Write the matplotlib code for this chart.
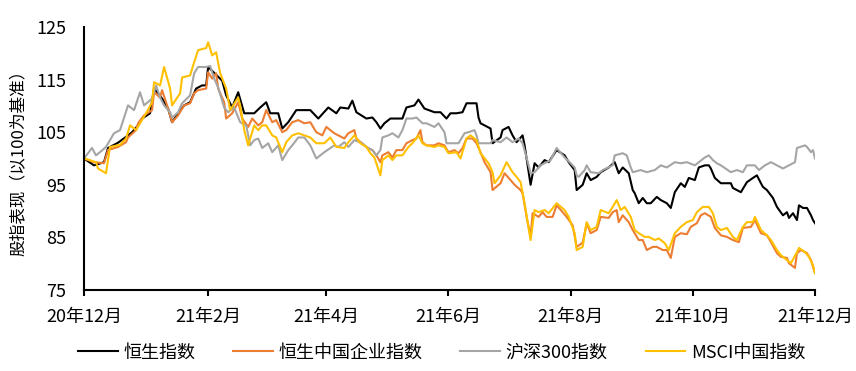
import numpy as np
import matplotlib
matplotlib.use("Agg")
import matplotlib.pyplot as plt
import matplotlib.dates as mdates
from matplotlib.ticker import FuncFormatter

plt.rcParams["font.family"] = ["Noto Sans CJK SC", "DejaVu Sans"]

# (days since 2020-12-01, index level rebased to 100)
START = np.datetime64("2020-12-01")

hsi = [
    (0, 100), (5, 98.7), (10, 99.3), (12, 102), (17, 103), (22, 104.4), (24, 105), (27, 106.3), (29, 107.6), (33, 108.6),
    (35, 113.3), (37, 112.4), (39, 111.4), (42, 109.5), (44, 106.9), (47, 108.6), (50, 110.1), (53, 110.7), (56, 113.3), (59, 113.9),
    (61, 113.9), (62, 117.4), (69, 114.8), (71, 112), (74, 109.7), (77, 112.6), (80, 108.6), (85, 108.6), (88, 109.7), (91, 110.7),
    (93, 108.6), (97, 108.6), (99, 105.7), (102, 106.9), (106, 109.2), (113, 109.2), (117, 107.6), (122, 109.7), (126, 108.6), (128, 109.7),
    (132, 109.5), (134, 111), (136, 108.8), (141, 107.6), (144, 107.8), (146, 106.9), (148, 105.7), (150, 106.7), (153, 107.6), (159, 107.6),
    (161, 109.7), (165, 110.1), (167, 111.2), (170, 109.5), (175, 108.8), (178, 108.8), (181, 107.6), (183, 108.6), (186, 108.6), (189, 108.8),
    (191, 110.5), (196, 110.5), (197, 107.8), (198, 106.7), (203, 105.7), (204, 102.9), (208, 104), (209, 105.4), (212, 106), (214, 104.4),
    (216, 103.1), (219, 104.4), (220, 102.5), (223, 95), (225, 99.1), (227, 98.3), (230, 99.7), (232, 99.3), (236, 101.6), (240, 100.6),
    (242, 99.3), (245, 97.8), (246, 94), (249, 95), (251, 97.2), (253, 95.9), (256, 96.5), (258, 97.4), (262, 98.3), (265, 99.3),
    (267, 97.2), (269, 98.3), (272, 97.2), (274, 94), (275, 93.4), (277, 91.5), (279, 92.5), (281, 91.5), (283, 91.5), (286, 92.7),
    (288, 92.1), (291, 91.5), (293, 90.6), (295, 93.6), (298, 95.3), (300, 94.6), (302, 96.3), (305, 95.9), (307, 98.3), (310, 98.7),
    (312, 98.7), (313, 98.1), (315, 96.3), (318, 95.3), (323, 95.3), (324, 94.4), (328, 93.6), (331, 95.5), (334, 96.3), (336, 96.8),
    (338, 95.3), (339, 94.6), (341, 94), (344, 92.5), (346, 90.8), (349, 89.2), (351, 89.8), (352, 88.7), (354, 89.6), (356, 88.3),
    (357, 91.1), (359, 90.6), (361, 90.6), (363, 89.2), (364, 88.3), (365, 87.7),
]

hscei = [
    (0, 100), (5, 99.3), (10, 99.1), (12, 101.6), (17, 102.2), (21, 103.1), (22, 104), (26, 105.4), (27, 106.7), (30, 108.2),
    (34, 109.2), (35, 112.6), (38, 111.6), (39, 113), (42, 109.5), (44, 106.9), (47, 108.2), (50, 110.1), (53, 110.5), (55, 112.4),
    (57, 113), (61, 113.3), (62, 116.4), (64, 115.2), (66, 116.2), (67, 113.3), (70, 110.7), (71, 107.6), (74, 108.6), (77, 110.7),
    (79, 107.6), (82, 106), (84, 107.6), (87, 106.3), (89, 106.9), (91, 109.2), (94, 106.9), (96, 107.3), (99, 105), (101, 105.4),
    (104, 106.9), (107, 107.3), (110, 106.7), (113, 106.9), (116, 105), (119, 104.4), (121, 106), (125, 104.8), (127, 104.4), (130, 103.8),
    (132, 104.8), (135, 105.4), (136, 103.8), (140, 102.5), (142, 101.9), (144, 101.6), (146, 100.6), (148, 99.3), (149, 100.6), (152, 101.2),
    (154, 100.2), (156, 101.6), (159, 101.6), (161, 102.9), (164, 103.5), (166, 103.8), (168, 105.4), (169, 103.1), (171, 102.5), (175, 102.5),
    (177, 102.9), (180, 102.5), (182, 101.2), (185, 101.6), (187, 101), (189, 102), (191, 103.8), (194, 103.8), (196, 102.9), (198, 101.2),
    (200, 99.3), (203, 97.4), (204, 94), (208, 95.3), (210, 97.2), (213, 95.9), (215, 95), (218, 94), (219, 93.4), (221, 88.9),
    (223, 85.1), (224, 89.6), (227, 88.9), (229, 89.8), (231, 88.9), (234, 88.9), (236, 91.1), (239, 89.8), (241, 88.9), (244, 87.3),
    (246, 83.2), (249, 84), (251, 87.7), (253, 85.8), (256, 86.4), (258, 88.9), (262, 88.7), (264, 89.8), (266, 90.2), (267, 87.9),
    (269, 89.2), (272, 87.9), (274, 86.4), (277, 84.5), (279, 84.5), (281, 82.6), (284, 83.2), (286, 83.2), (289, 82.6), (291, 82.6),
    (293, 81.1), (295, 85.1), (298, 85.8), (301, 85.6), (303, 87), (306, 87.7), (308, 89.2), (310, 89.6), (313, 88.9), (315, 86.8),
    (318, 85.4), (321, 85.1), (324, 84.5), (327, 84.1), (329, 86.8), (333, 87), (335, 88.3), (338, 85.8), (341, 85.4), (343, 84.1),
    (346, 82), (348, 81.3), (351, 81.1), (352, 80.1), (355, 79.2), (356, 82), (358, 82.6), (361, 82), (363, 80.7), (364, 79.4), (365, 78.2),
]

csi300 = [
    (0, 100), (4, 102), (6, 100.6), (8, 101.2), (11, 102.2), (15, 104.8), (18, 105.4), (22, 110.1), (25, 109.2), (28, 112.6),
    (30, 110.1), (34, 111.4), (36, 113.9), (38, 111.6), (40, 110.1), (43, 108.8), (44, 107.8), (47, 108.8), (49, 110.5), (53, 112),
    (55, 116.2), (57, 117.4), (61, 117.4), (63, 117.6), (65, 115.2), (67, 113.5), (70, 109.7), (72, 108.8), (75, 109.7), (78, 106.9),
    (81, 106.3), (83, 102.5), (85, 103.5), (87, 103.8), (89, 102), (92, 102.9), (94, 101.2), (97, 102.5), (99, 99.7), (102, 101.6),
    (104, 102.5), (107, 104), (110, 104), (113, 102.5), (116, 100), (120, 101.2), (125, 102.5), (127, 102.2), (130, 103.1), (132, 102.2),
    (135, 103.5), (139, 102.9), (141, 102.2), (144, 101.6), (146, 100.6), (148, 101.6), (149, 104), (152, 104.4), (154, 104.8), (157, 104),
    (159, 105.4), (161, 107.6), (164, 107.6), (166, 107.8), (169, 106.7), (171, 106.7), (175, 106), (177, 106.7), (180, 105), (181, 102.9),
    (185, 102.9), (187, 102.9), (190, 104.8), (192, 105), (195, 105.4), (196, 104.4), (197, 102.9), (203, 102.9), (204, 103.5), (208, 103.1),
    (211, 104), (214, 103.1), (217, 103.8), (219, 102.9), (221, 100.2), (223, 97.2), (225, 97.4), (228, 98.7), (231, 99.3), (233, 99.7),
    (236, 102), (240, 100.2), (243, 99.1), (245, 98.3), (246, 96.8), (247, 96.5), (250, 97.8), (251, 98.7), (253, 97.4), (257, 97.2),
    (259, 97.8), (264, 98.7), (265, 100.6), (269, 101), (271, 100.6), (273, 98.3), (274, 97.4), (278, 97.8), (281, 97.4), (285, 97.8),
    (288, 98.7), (291, 98.3), (295, 99.3), (298, 99.1), (301, 99.3), (305, 98.7), (307, 99.3), (310, 100.2), (312, 100.6), (314, 99.7),
    (316, 99.1), (318, 98.7), (323, 97.4), (326, 97.8), (329, 97.4), (331, 98.7), (335, 98.7), (337, 97.8), (340, 98.7), (343, 99.3),
    (346, 98.7), (349, 98.1), (352, 98.7), (355, 99.3), (356, 102), (360, 102.5), (361, 102.2), (363, 101.2), (364, 101.6), (365, 100),
]

msci_china = [
    (0, 100), (2, 99.8), (6, 99.3), (7, 98.1), (11, 97.2), (13, 102.2), (18, 102.6), (21, 103.8), (23, 106.3), (26, 105.4),
    (28, 106.7), (31, 108.6), (34, 110.7), (35, 114.5), (38, 113.9), (40, 117.4), (43, 113.3), (44, 110.1), (48, 112.4), (49, 115.4),
    (53, 115.8), (55, 118.3), (57, 120.6), (61, 121), (62, 122.1), (64, 119.6), (66, 120.2), (68, 116.2), (71, 113.3), (73, 109.2),
    (77, 111.6), (78, 110.1), (80, 105.4), (82, 102.5), (85, 106.3), (87, 105.4), (89, 106.3), (91, 106.3), (94, 104.4), (96, 104),
    (99, 101.2), (101, 103.1), (104, 104.4), (107, 104.8), (110, 104.4), (113, 104), (116, 102.9), (120, 102.9), (123, 104), (126, 102.2),
    (130, 102), (132, 103.1), (135, 104.4), (138, 102.9), (141, 102.2), (143, 101), (145, 100.2), (148, 96.8), (149, 99.7), (152, 100.6),
    (154, 99.7), (156, 100.6), (159, 100.6), (162, 102.2), (164, 102.9), (167, 104.4), (169, 102.9), (171, 102.5), (175, 102.2), (177, 102.5),
    (180, 102.2), (182, 101), (186, 101.2), (188, 100), (191, 103.8), (193, 104.4), (196, 103.5), (198, 101), (202, 99.1), (204, 97.4),
    (205, 95.3), (208, 96.8), (211, 99.3), (214, 97.4), (216, 96.5), (218, 95.5), (220, 91.5), (223, 84.5), (225, 90.2), (227, 89.8),
    (230, 90.2), (232, 89.6), (236, 91.5), (240, 90.2), (242, 88.9), (245, 85.8), (246, 82.6), (249, 83.2), (251, 87.9), (253, 86.4),
    (256, 87), (258, 90.2), (262, 89.6), (264, 90.8), (266, 92.1), (268, 90.2), (270, 90.8), (273, 88.9), (275, 86.4), (277, 85.8),
    (280, 85.1), (282, 85.1), (285, 84.5), (287, 84.8), (290, 83.9), (292, 82.6), (295, 85.8), (298, 87), (301, 87.9), (304, 88.3),
    (306, 89.8), (309, 90.8), (312, 90.8), (314, 89.6), (316, 87), (318, 86.4), (321, 86.8), (324, 85.1), (326, 84.5), (329, 87),
    (331, 87.9), (334, 87.9), (335, 88.9), (338, 86.4), (341, 85.4), (343, 84.5), (346, 82.6), (348, 81.6), (351, 80.7), (353, 80.1),
    (356, 82.2), (357, 83), (360, 82.2), (362, 81.3), (364, 79.7), (365, 78.2),
]

series = [
    ("恒生指数", hsi, "#000000"),
    ("恒生中国企业指数", hscei, "#ED7D31"),
    ("沪深300指数", csi300, "#A5A5A5"),
    ("MSCI中国指数", msci_china, "#FFC000"),
]

fig = plt.figure(figsize=(8.56, 3.71), dpi=100)
ax = fig.add_axes([0.0981, 0.2183, 0.854, 0.7089])

for name, data, color in series:
    days, vals = zip(*data)
    dates = START + np.array(days).astype("timedelta64[D]")
    ax.plot(dates, vals, color=color, linewidth=1.5, label=name)

ax.set_ylim(75, 125)
ax.set_yticks(np.arange(75, 126, 10))
ax.set_xlim(START, np.datetime64("2021-12-01"))
ax.xaxis.set_major_locator(mdates.MonthLocator(bymonth=[2, 4, 6, 8, 10, 12]))


def month_label(x, pos):
    d = mdates.num2date(x)
    return f"{d.year % 100}年{d.month}月"


ax.xaxis.set_major_formatter(FuncFormatter(month_label))

for side in ("top", "right"):
    ax.spines[side].set_visible(False)
for side in ("left", "bottom"):
    ax.spines[side].set_linewidth(1.5)
    ax.spines[side].set_color("black")
ax.tick_params(axis="y", length=0, pad=13, labelsize=13)
ax.tick_params(axis="x", length=4, width=1.5, pad=9, labelsize=13, direction="out")

ax.set_ylabel("股指表现（以100为基准）", fontsize=12)
ax.yaxis.set_label_coords(-0.077, 0.5)

fig.legend(loc="center", bbox_to_anchor=(0.516, 0.05), ncol=4, frameon=False,
           fontsize=13, handlelength=2.2, handletextpad=0.3, columnspacing=2.1)

fig.savefig("out.png", dpi=100)
